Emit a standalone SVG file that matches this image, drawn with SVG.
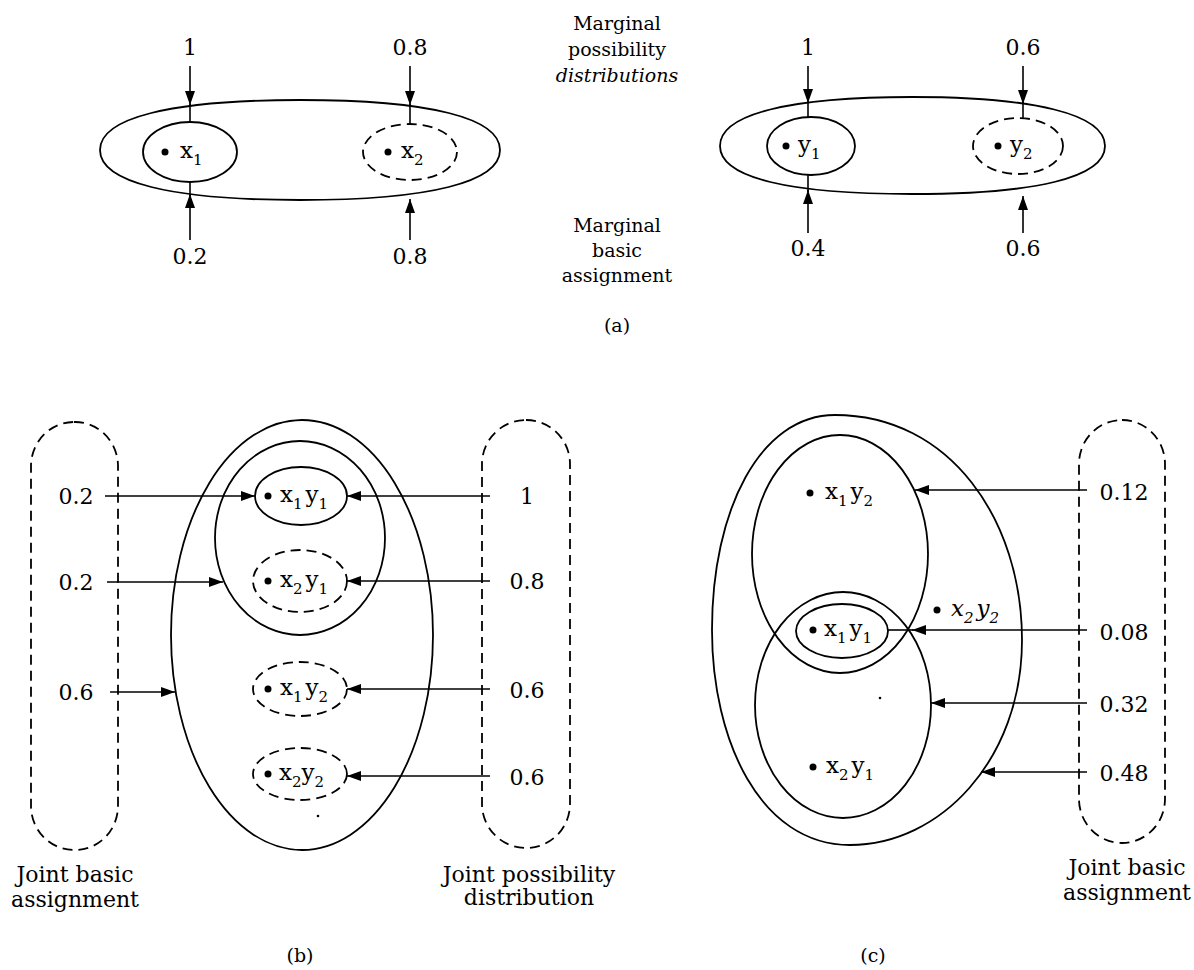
<svg xmlns="http://www.w3.org/2000/svg" width="1194" height="970" viewBox="0 0 1194 970">
<style>
.s{fill:none;stroke:#000;stroke-width:1.8}
.d{fill:none;stroke:#000;stroke-width:1.8;stroke-dasharray:10 6}
.ar{fill:none;stroke:#000;stroke-width:1.6;marker-end:url(#ah)}
.ln{fill:none;stroke:#000;stroke-width:1.6}
text{font-family:"DejaVu Serif","Liberation Serif",serif;fill:#000}
.n{font-size:22px;text-anchor:middle}
.l{font-size:19px;text-anchor:middle}
.lb{font-size:22px;text-anchor:middle}
.v{font-size:23px}
.sb{font-size:15px}
</style>
<defs>
<marker id="ah" markerUnits="userSpaceOnUse" markerWidth="15" markerHeight="10" refX="14" refY="5" orient="auto">
<path d="M0,0 L14,5 L0,10 Z" fill="#000"/>
</marker>
</defs>

<!-- (a) left -->
<g id="a-X">
<path class="s" d="M100,150 C100,118 170,100 300,100 C430,100 500,118 500,150 C500,182 430,200 300,200 C170,200 100,182 100,150 Z"/>
</g>
<g id="a-x1">
<ellipse class="s" cx="190" cy="152" rx="47" ry="30"/>
<circle cx="165" cy="152" r="3.5"/>
<text class="v" x="180" y="158">x<tspan class="sb" dy="7">1</tspan></text>
</g>
<g id="a-x2">
<ellipse class="d" cx="410" cy="152" rx="47" ry="28"/>
<circle cx="388" cy="152" r="3.5"/>
<text class="v" x="401" y="158">x<tspan class="sb" dy="7">2</tspan></text>
</g>

<!-- (a) right -->
<g id="a-Y">
<path class="s" d="M720,146 C720,114 790,97 912,97 C1034,97 1105,114 1105,146 C1105,178 1034,194 912,194 C790,194 720,178 720,146 Z"/>
</g>
<g id="a-y1">
<ellipse class="s" cx="811" cy="146" rx="44" ry="29"/>
<circle cx="786" cy="146" r="3.5"/>
<text class="v" x="798" y="152">y<tspan class="sb" dy="7">1</tspan></text>
</g>
<g id="a-y2">
<ellipse class="d" cx="1018" cy="146" rx="45" ry="28"/>
<circle cx="998" cy="146" r="3.5"/>
<text class="v" x="1010" y="152">y<tspan class="sb" dy="7">2</tspan></text>
</g>

<g id="a-labels">
<text class="n" x="190" y="55">1</text>
<text class="n" x="410" y="55">0.8</text>
<text class="n" x="190" y="264">0.2</text>
<text class="n" x="410" y="264">0.8</text>
<text class="n" x="808" y="55">1</text>
<text class="n" x="1023" y="55">0.6</text>
<text class="n" x="808" y="256">0.4</text>
<text class="n" x="1023" y="256">0.6</text>
<text class="l" x="617" y="30">Marginal</text>
<text class="l" x="617" y="56">possibility</text>
<text class="l" x="617" y="82" font-style="italic">distributions</text>
<text class="l" x="617" y="232">Marginal</text>
<text class="l" x="617" y="257">basic</text>
<text class="l" x="617" y="282">assignment</text>
<text class="l" x="617" y="332">(a)</text>
</g>

<!-- (b) -->
<g id="b-left">
<rect class="d" x="31" y="422" width="87" height="428" rx="43" ry="44"/>
<text class="n" x="76" y="504">0.2</text>
<text class="n" x="76" y="590">0.2</text>
<text class="n" x="76" y="700">0.6</text>
</g>
<g id="b-outer">
<ellipse class="s" cx="302" cy="635" rx="131" ry="215"/>
<circle cx="318" cy="816" r="1.3"/>
</g>
<g id="b-inner">
<ellipse class="s" cx="300" cy="538" rx="85" ry="97"/>
</g>
<g id="b-x1y1">
<ellipse class="s" cx="301" cy="496" rx="46" ry="29"/>
<circle cx="268" cy="496" r="3.5"/>
<text class="v" x="280" y="502">x<tspan class="sb" dy="7">1</tspan><tspan dx="3" dy="-7">y</tspan><tspan class="sb" dy="7">1</tspan></text>
</g>
<g id="b-x2y1">
<ellipse class="d" cx="300" cy="581" rx="47" ry="31"/>
<circle cx="268" cy="581" r="3.5"/>
<text class="v" x="280" y="587">x<tspan class="sb" dy="7">2</tspan><tspan dx="3" dy="-7">y</tspan><tspan class="sb" dy="7">1</tspan></text>
</g>
<g id="b-x1y2">
<ellipse class="d" cx="300" cy="689" rx="47" ry="27"/>
<circle cx="268" cy="689" r="3.5"/>
<text class="v" x="280" y="695">x<tspan class="sb" dy="7">1</tspan><tspan dx="3" dy="-7">y</tspan><tspan class="sb" dy="7">2</tspan></text>
</g>
<g id="b-x2y2">
<ellipse class="d" cx="300" cy="774" rx="47" ry="26"/>
<circle cx="268" cy="774" r="3.5"/>
<text class="v" x="279" y="780">x<tspan class="sb" dy="7">2</tspan><tspan dy="-7">y</tspan><tspan class="sb" dy="7">2</tspan></text>
</g>
<g id="b-right">
<rect class="d" x="482" y="420" width="88" height="428" rx="44" ry="44"/>
<text class="n" x="527" y="504">1</text>
<text class="n" x="527" y="589">0.8</text>
<text class="n" x="527" y="698">0.6</text>
<text class="n" x="527" y="785">0.6</text>
</g>
<g id="b-labels">
<text class="lb" x="75" y="882">Joint basic</text>
<text class="lb" x="75" y="907">assignment</text>
<text class="lb" x="529" y="882">Joint possibility</text>
<text class="lb" x="529" y="905">distribution</text>
<text class="l" x="300" y="962">(b)</text>
</g>

<!-- (c) -->
<g id="c-outer">
<path class="s" d="M835,415 C950,415 1022,520 1022,640 C1022,760 940,845 850,845 C760,845 712,740 712,630 C712,510 760,415 835,415 Z"/>
<circle cx="880" cy="698" r="1.3"/>
</g>
<g id="c-upper">
<ellipse class="s" cx="840" cy="554" rx="88" ry="119"/>
</g>
<g id="c-lower">
<ellipse class="s" cx="843" cy="705" rx="88" ry="113"/>
</g>
<g id="c-x1y1">
<ellipse class="s" cx="842" cy="631" rx="46" ry="27"/>
<circle cx="813" cy="630" r="3.5"/>
<text class="v" x="824" y="636">x<tspan class="sb" dy="7">1</tspan><tspan dx="3" dy="-7">y</tspan><tspan class="sb" dy="7">1</tspan></text>
</g>
<g id="c-x1y2">
<circle cx="810" cy="493" r="3.5"/>
<text class="v" x="825" y="499">x<tspan class="sb" dy="7">1</tspan><tspan dx="3" dy="-7">y</tspan><tspan class="sb" dy="7">2</tspan></text>
</g>
<g id="c-x2y2">
<circle cx="937" cy="610" r="3.5"/>
<text class="v" x="951" y="616" font-style="italic">x<tspan class="sb" dy="7">2</tspan><tspan dx="3" dy="-7">y</tspan><tspan class="sb" dy="7">2</tspan></text>
</g>
<g id="c-x2y1">
<circle cx="813" cy="767" r="3.5"/>
<text class="v" x="826" y="773">x<tspan class="sb" dy="7">2</tspan><tspan dx="3" dy="-7">y</tspan><tspan class="sb" dy="7">1</tspan></text>
</g>
<g id="c-right">
<rect class="d" x="1079" y="420" width="86" height="423" rx="43" ry="44"/>
<text class="n" x="1124" y="500">0.12</text>
<text class="n" x="1124" y="640">0.08</text>
<text class="n" x="1124" y="712">0.32</text>
<text class="n" x="1124" y="781">0.48</text>
</g>
<g id="c-labels">
<text class="lb" x="1127" y="875">Joint basic</text>
<text class="lb" x="1127" y="900">assignment</text>
<text class="l" x="873" y="962">(c)</text>
</g>

<!-- connectors -->
<g id="connectors">
<!-- (a) -->
<line class="ln" x1="190" y1="104" x2="190" y2="122"/>
<line class="ar" x1="190" y1="66" x2="190" y2="105"/>
<line class="ln" x1="410" y1="104" x2="410" y2="124"/>
<line class="ar" x1="410" y1="66" x2="410" y2="105"/>
<line class="ln" x1="190" y1="196" x2="190" y2="182"/>
<line class="ar" x1="190" y1="240" x2="190" y2="194"/>
<line class="ar" x1="410" y1="240" x2="410" y2="199"/>
<line class="ln" x1="808" y1="102" x2="808" y2="117"/>
<line class="ar" x1="808" y1="66" x2="808" y2="103"/>
<line class="ln" x1="1023" y1="102" x2="1023" y2="118"/>
<line class="ar" x1="1023" y1="66" x2="1023" y2="104"/>
<line class="ln" x1="808" y1="192" x2="808" y2="175"/>
<line class="ar" x1="808" y1="233" x2="808" y2="190"/>
<line class="ar" x1="1023" y1="233" x2="1023" y2="196"/>
<!-- (b) left -->
<line class="ar" x1="105" y1="496" x2="255" y2="496"/>
<line class="ar" x1="107" y1="582" x2="223" y2="582"/>
<line class="ar" x1="110" y1="692" x2="175" y2="692"/>
<!-- (b) right -->
<line class="ar" x1="490" y1="496" x2="347" y2="496"/>
<line class="ar" x1="490" y1="581" x2="347" y2="581"/>
<line class="ar" x1="490" y1="689" x2="347" y2="689"/>
<line class="ar" x1="490" y1="776" x2="347" y2="776"/>
<!-- (c) -->
<line class="ar" x1="1087" y1="490" x2="915" y2="490"/>
<line class="ln" x1="913" y1="630" x2="888" y2="630"/>
<line class="ar" x1="1087" y1="630" x2="912" y2="630"/>
<line class="ar" x1="1087" y1="703" x2="931" y2="703"/>
<line class="ar" x1="1087" y1="772" x2="981" y2="772"/>
</g>
</svg>
